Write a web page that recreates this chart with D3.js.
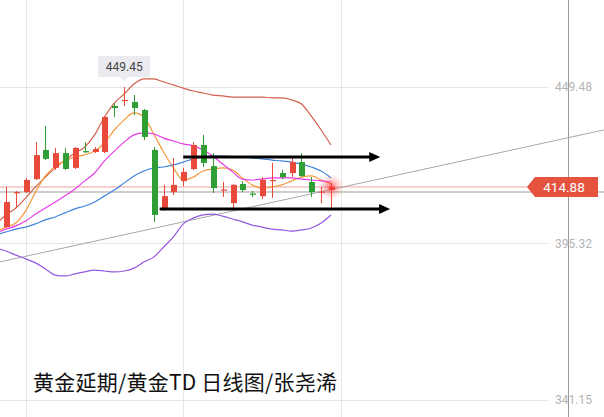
<!DOCTYPE html>
<html><head><meta charset="utf-8">
<script src="https://cdn.jsdelivr.net/npm/d3@7"></script>
<style>html,body{margin:0;padding:0;background:#fff;}svg{display:block;}</style>
</head><body>
<svg id="chart" width="604" height="417"></svg>
<script>
// ---- data (prices) ----
const opens  = [401.0,412.8,413.1,417.6,427.7,421.5,426.6,421.5,427.3,427.0,427.0,442.9,444.6,444.3,441.5,427.7,406.9,413.1,416.9,421.1,429.4,422.1,413.7,409.3,415.9,412.6,411.7,416.9,419.7,419.7,423.5,416.6,412.9,413.8];
const highs  = [414.9,413.5,418.0,430.4,436.0,428.4,428.4,428.7,430.4,428.7,439.4,443.9,449.45,446.7,441.9,428.7,415.6,424.9,421.5,430.4,432.9,426.6,416.6,415.9,416.9,413.5,418.3,423.2,420.8,424.9,426.6,418.3,414.9,416.3];
const lows   = [400.7,407.6,412.8,417.3,424.2,420.8,420.8,421.1,426.6,426.6,426.6,439.1,442.9,439.8,431.1,402.8,406.6,412.1,415.2,420.8,421.8,412.8,411.4,406.9,413.1,411.4,410.7,411.1,417.6,418.3,418.3,411.4,409.3,407.6];
const closes = [409.7,413.1,417.3,425.9,424.6,426.6,421.1,428.4,427.0,428.0,439.1,442.2,445.0,442.2,432.2,405.2,411.7,415.6,420.1,429.4,423.2,414.5,414.0,415.6,413.8,412.3,417.3,417.3,418.3,423.5,418.7,413.1,413.3,414.88];
// indicator lines, first value belongs to the bar just left of the view (index -1)
const lineBrown   = [402.1,405.2,407.6,411.1,414.9,418.3,421.5,424.2,426.6,428.7,432.9,439.1,443.9,447.1,450.5,452.3,452.3,451.2,450.2,449.1,448.1,447.4,446.7,446.4,446.0,446.0,446.0,446.0,445.7,445.7,445.0,443.6,439.4,434.6,429.4];
const lineOrange  = [399.6,401.0,402.4,406.6,413.1,418.7,422.1,423.9,425.3,426.0,427.3,430.1,434.6,438.1,440.5,439.1,433.2,427.0,421.5,417.3,418.3,420.4,421.1,421.5,420.8,418.0,415.6,414.5,414.9,415.6,417.0,418.3,418.7,417.3,415.9];
const lineMagenta = [399.0,400.3,401.4,403.1,405.5,407.6,409.7,411.8,414.2,417.0,419.7,423.9,427.3,430.4,432.9,433.6,433.2,431.8,430.8,429.8,429.1,427.7,425.6,422.8,420.1,417.6,417.3,417.6,418.0,418.0,418.0,417.6,417.3,417.0,416.6];
const lineBlue    = [398.3,399.3,400.3,401.0,402.1,403.5,404.5,405.9,407.3,408.3,409.7,411.8,413.8,416.3,418.7,420.4,421.5,421.8,422.5,423.5,424.6,425.3,425.6,425.6,425.3,425.3,424.9,424.6,424.2,423.9,423.5,422.8,421.8,420.4,418.0];
const linePurple  = [393.8,392.7,391.3,390.0,388.6,386.5,384.4,384.1,384.8,385.5,386.1,385.8,385.5,385.8,386.8,388.9,390.6,394.1,397.6,402.1,404.1,405.2,405.5,404.8,403.8,402.8,401.7,401.0,400.3,400.0,399.6,400.0,400.7,402.4,405.2];
const yTicks = [449.48, 395.32, 341.15];
const xGridIdx = [2, 18, 34];
const lastPrice = 414.88;
const prevLine = 413.14;
const highLabel = "449.45";
const highIdx = 12;
const trendPts = [{i:0, p:389.4}, {i:60, p:434.1}];
const arrows = [{i0:18, i1:38, p:425.25}, {i0:15.6, i1:39, p:407.25}];
const title = "黄金延期/黄金TD 日线图/张尧浠";

// ---- scales ----
const W = 604, H = 417;
const x = d3.scaleLinear().domain([0, 33]).range([6, 331]);
const y = d3.scaleLinear().domain([341.15, 449.48]).range([400, 87]);
const svg = d3.select("#chart");
const UP = "#e8493a", DOWN = "#2e9e35";

// background grid
svg.append("g").selectAll("line").data(yTicks).join("line")
  .attr("x1", 0).attr("x2", 549).attr("y1", d => Math.round(y(d))+0.5).attr("y2", d => Math.round(y(d))+0.5)
  .attr("stroke", "#e6e6e6").attr("stroke-width", 1);
svg.append("g").selectAll("line").data(xGridIdx).join("line")
  .attr("x1", d => Math.round(x(d))+0.5).attr("x2", d => Math.round(x(d))+0.5).attr("y1", 0).attr("y2", H)
  .attr("stroke", "#e6e6e6").attr("stroke-width", 1);
svg.append("line").attr("x1", 568.5).attr("x2", 568.5).attr("y1", 0).attr("y2", H)
  .attr("stroke", "#9a9a9a").attr("stroke-width", 1);

// axis labels (right axis)
const axis = d3.axisRight(y).tickValues(yTicks).tickSize(0).tickPadding(0).tickFormat(d3.format(".2f"));
const ax = svg.append("g").attr("transform", "translate(555,0)").call(axis);
ax.select(".domain").remove();
ax.selectAll("text").attr("fill", "#b4b4b4").attr("font-size", 12).attr("font-family", "Roboto, 'Noto Sans', sans-serif");

// price lines
svg.append("line").attr("x1", 0).attr("x2", W).attr("y1", y(prevLine)).attr("y2", y(prevLine))
  .attr("stroke", "#a09a9a").attr("stroke-width", 1);
svg.append("line").attr("x1", 0).attr("x2", 530).attr("y1", y(lastPrice)).attr("y2", y(lastPrice))
  .attr("stroke", "#e8a49c").attr("stroke-width", 1);

// trend line
const slope = (trendPts[1].p - trendPts[0].p) / (trendPts[1].i - trendPts[0].i);
const iL = x.invert(0), iR = x.invert(W);
svg.append("line")
  .attr("x1", x(iL)).attr("y1", y(trendPts[0].p + slope*(iL - trendPts[0].i)))
  .attr("x2", x(iR)).attr("y2", y(trendPts[0].p + slope*(iR - trendPts[0].i)))
  .attr("stroke", "#a8a8a8").attr("stroke-width", 1);

// indicator lines
const lineGen = d3.line().x((d, k) => x(k - 1)).y(d => y(d)).curve(d3.curveMonotoneX);
[[lineBrown, "#d2604c"], [lineOrange, "#f59a3c"], [lineMagenta, "#e83ce8"], [lineBlue, "#3f84dc"], [linePurple, "#9458e0"]]
  .forEach(([arr, c]) => {
    svg.append("path").attr("d", lineGen(arr)).attr("fill", "none").attr("stroke", c).attr("stroke-width", 1.2);
  });

// candles
const candles = opens.map((o, i) => ({i, o, h: highs[i], l: lows[i], c: closes[i]}));
const cg = svg.append("g");
cg.selectAll("line").data(candles).join("line")
  .attr("x1", d => Math.round(x(d.i))+0.5).attr("x2", d => Math.round(x(d.i))+0.5)
  .attr("y1", d => y(d.h)).attr("y2", d => y(d.l))
  .attr("stroke", d => d.c >= d.o ? UP : DOWN).attr("stroke-width", 1);
cg.selectAll("rect").data(candles).join("rect")
  .attr("x", d => Math.round(x(d.i)) - 2).attr("width", 6)
  .attr("y", d => y(Math.max(d.o, d.c)))
  .attr("height", d => Math.max(1.2, Math.abs(y(d.o) - y(d.c))))
  .attr("fill", d => d.c >= d.o ? UP : DOWN);

// glow on last bar
const defs = svg.append("defs");
const rg = defs.append("radialGradient").attr("id", "glow");
rg.append("stop").attr("offset", "0%").attr("stop-color", "#ff3030").attr("stop-opacity", 0.75);
rg.append("stop").attr("offset", "50%").attr("stop-color", "#ff5050").attr("stop-opacity", 0.3);
rg.append("stop").attr("offset", "100%").attr("stop-color", "#ff8080").attr("stop-opacity", 0);
svg.append("circle").attr("cx", x(33)).attr("cy", y(lastPrice)).attr("r", 13).attr("fill", "url(#glow)");

// arrows
arrows.forEach(a => {
  const x0 = x(a.i0), x1 = x(a.i1), yy = y(a.p);
  svg.append("line").attr("x1", x0).attr("x2", x1 - 8).attr("y1", yy).attr("y2", yy)
    .attr("stroke", "#000").attr("stroke-width", 3);
  svg.append("path").attr("d", `M${x1},${yy} L${x1-11},${yy-5} L${x1-11},${yy+5} Z`).attr("fill", "#000");
});

// high tooltip
const hx = x(highIdx);
svg.append("path").attr("d", `M${hx-26},56 H${hx+26} V77 H${hx+4} L${hx},81 L${hx-4},77 H${hx-26} Z`)
  .attr("fill", "#e9ebee");
svg.append("text").attr("x", hx).attr("y", 71).attr("text-anchor", "middle")
  .attr("font-size", 12).attr("fill", "#444").attr("font-family", "Roboto, 'Noto Sans', sans-serif").text(highLabel);

// last price label
const ly = y(lastPrice);
svg.append("path").attr("d", `M527,${ly} L535,${ly-10} H598 V${ly+10} H535 Z`).attr("fill", "#e5523e");
svg.append("text").attr("x", 564).attr("y", ly + 5).attr("text-anchor", "middle")
  .attr("font-size", 13.5).attr("fill", "#fff").attr("font-family", "Roboto, 'Noto Sans', sans-serif").text(lastPrice.toFixed(2));

// title
svg.append("text").attr("x", 33).attr("y", 390).attr("font-size", 21)
  .attr("textLength", 304).attr("lengthAdjust", "spacing")
  .attr("font-family", "'Noto Sans CJK SC', sans-serif").attr("fill", "#111").text(title);
</script>
</body></html>
